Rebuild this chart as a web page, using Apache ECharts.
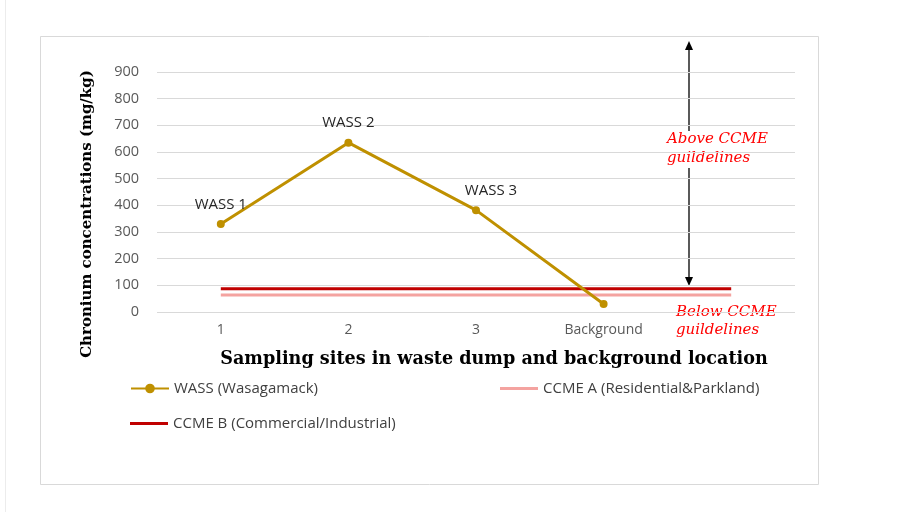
<!DOCTYPE html>
<html>
<head>
<meta charset="utf-8">
<script src="https://cdn.jsdelivr.net/npm/echarts@6/dist/echarts.min.js"></script>
<style>
  html, body { margin: 0; padding: 0; background: #fff; }
  #chart { width: 902px; height: 512px; }
</style>
</head>
<body>
<div id="chart"></div>
<script>
// sampling sites (last slot empty so guideline lines run past Background)
const sites = ['1', '2', '3', 'Background', '']
const wassValues = [330, 635, 382, 30, null]
const pointNames = ['WASS 1', 'WASS 2', 'WASS 3', '', '']
const ccmeA = [64, 64, 64, 64, 64]
const ccmeB = [87, 87, 87, 87, 87]
const yTicks = { min: 0, max: 900, interval: 100 }

const labelFont = '"Open Sans", "Liberation Sans", sans-serif'
const serifFont = '"DejaVu Serif", "Liberation Serif", serif'

const chartDom = document.getElementById('chart')
const myChart = echarts.init(chartDom)

const wassData = wassValues.map((v, i) => {
    let item = { value: v }
    if (pointNames[i]) {
        item.label = {
            show: true,
            formatter: pointNames[i],
            position: 'top',
            distance: 8,
            offset: i === 2 ? [15, 0] : [0, 0],
        }
    }
    return item
})

const legendText = { color: '#404040', fontFamily: labelFont, fontSize: 15 }

const option = {
    animation: false,
    backgroundColor: '#fff',
    grid: { left: 157, right: 107, top: 72, bottom: 200 },
    xAxis: {
        type: 'category',
        data: sites,
        boundaryGap: true,
        axisLine: { show: false },
        axisTick: { show: false },
        axisLabel: { color: '#595959', fontFamily: labelFont, fontSize: 14, margin: 11 },
        name: 'Sampling sites in waste dump and background location',
        nameLocation: 'middle',
        nameGap: 38,
        nameTextStyle: {
            fontFamily: serifFont, fontWeight: 'bold', fontSize: 17.6, color: '#000',
            padding: [0, 0, 0, 36],
        },
    },
    yAxis: {
        type: 'value',
        min: yTicks.min,
        max: yTicks.max,
        interval: yTicks.interval,
        axisLine: { show: false },
        axisTick: { show: false },
        splitLine: { lineStyle: { color: '#d9d9d9', width: 1 } },
        axisLabel: { color: '#595959', fontFamily: labelFont, fontSize: 14.5, margin: 18 },
    },
    legend: [
        {
            left: 125, top: 376, itemWidth: 38, itemHeight: 12,
            data: ['WASS (Wasagamack)'],
            textStyle: legendText,
        },
        {
            left: 495, top: 376, itemWidth: 38, itemHeight: 3,
            data: [{ name: 'CCME A (Residential&Parkland)', icon: 'rect' }],
            textStyle: legendText,
        },
        {
            left: 125, top: 411, itemWidth: 38, itemHeight: 3,
            data: [{ name: 'CCME B (Commercial/Industrial)', icon: 'rect' }],
            textStyle: legendText,
        },
    ],
    series: [
        {
            name: 'CCME A (Residential&Parkland)',
            type: 'line',
            data: ccmeA,
            showSymbol: false,
            symbol: 'none',
            lineStyle: { color: '#F4A3A0', width: 3 },
            itemStyle: { color: '#F4A3A0' },
            z: 2,
        },
        {
            name: 'CCME B (Commercial/Industrial)',
            type: 'line',
            data: ccmeB,
            showSymbol: false,
            symbol: 'none',
            lineStyle: { color: '#C00000', width: 3 },
            itemStyle: { color: '#C00000' },
            z: 3,
        },
        {
            name: 'WASS (Wasagamack)',
            type: 'line',
            data: wassData,
            symbol: 'circle',
            symbolSize: 8,
            lineStyle: { color: '#BF9000', width: 3 },
            itemStyle: { color: '#BF9000' },
            label: { color: '#262626', fontFamily: labelFont, fontSize: 15 },
            z: 4,
        },
    ],
    graphic: [
        // chart frame
        {
            type: 'rect', shape: { x: 40.5, y: 36.5, width: 778, height: 448 },
            style: { fill: 'none', stroke: '#d9d9d9', lineWidth: 1 }, z: -1,
        },
        {
            type: 'line', shape: { x1: 5.5, y1: 0, x2: 5.5, y2: 512 },
            style: { stroke: '#ececec', lineWidth: 1 }, z: -1,
        },
        // y axis title
        {
            type: 'text', x: 87, y: 214, rotation: Math.PI / 2,
            style: {
                text: 'Chronium concentrations (mg/kg)', fill: '#000',
                font: 'bold 15px "DejaVu Serif", serif',
                align: 'center', verticalAlign: 'middle',
            },
        },
        // double arrow
        { type: 'line', shape: { x1: 689, y1: 48, x2: 689, y2: 131 }, style: { stroke: '#000', lineWidth: 1.3 } },
        { type: 'line', shape: { x1: 689, y1: 168, x2: 689, y2: 280 }, style: { stroke: '#000', lineWidth: 1.3 } },
        { type: 'polygon', shape: { points: [[689, 41], [685, 50], [693, 50]] }, style: { fill: '#000' } },
        { type: 'polygon', shape: { points: [[689, 286], [685, 277], [693, 277]] }, style: { fill: '#000' } },
        // annotations
        {
            type: 'text', left: 667, top: 130,
            style: {
                text: 'Above CCME\nguildelines', fill: '#FF0000', lineHeight: 19,
                font: 'italic 15px "DejaVu Serif", serif',
            },
        },
        {
            type: 'text', left: 676, top: 303,
            style: {
                text: 'Below CCME\nguildelines', fill: '#FF0000', lineHeight: 18,
                font: 'italic 15px "DejaVu Serif", serif',
            },
        },
    ],
}

option && myChart.setOption(option)
window.addEventListener('resize', myChart.resize)
</script>
</body>
</html>
